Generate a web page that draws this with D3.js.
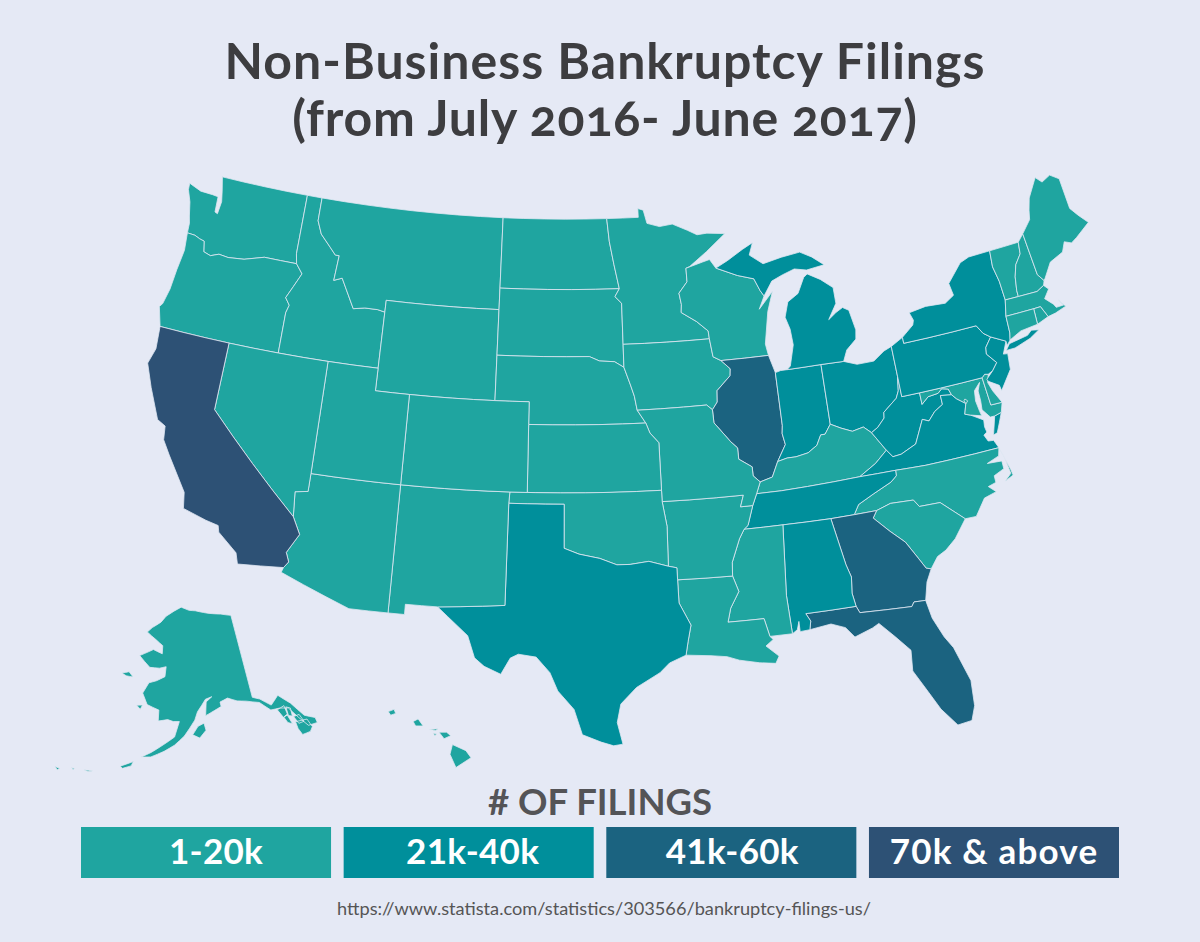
<!DOCTYPE html>
<html><head><meta charset="utf-8"><script src="https://cdn.jsdelivr.net/npm/d3@7"></script>
<style>html,body{margin:0;background:#e5e9f5}svg{display:block}text{font-family:Lato,"Open Sans",sans-serif}</style></head>
<body><svg id="c" width="1200" height="942"></svg>
<script>
const titleLines=["Non-Business Bankruptcy Filings","(from July 2016- June 2017)"];
const legendTitle="# OF FILINGS";
const sourceText="https://www.statista.com/statistics/303566/bankruptcy-filings-us/";
const categories=["1-20k","21k-40k","41k-60k","70k & above"];
const categoryColors=["#1fa5a0","#008f9b","#1b6380","#2d5175"];
const tier1=["WA","OR","ID","MT","WY","ND","SD","NE","MN","IA","WI","NV","UT","CO","AZ","NM","KS","OK","MO","AR","LA","MS","KY","NC","SC","AK","HI","ME","NH","VT","MA","CT","RI","DE","MD","DC"];
const tier2=["TX","TN","AL","VA","WV","OH","IN","MI","NY","PA","NJ"];
const tier3=["IL","GA","FL"];
const tier4=["CA"];
const WA=[[[-122.76,49],[-117.03,49],[-117.04,46.42],[-116.92,45.995],[-118.98,46],[-119.3,45.93],[-120.2,45.73],[-121.2,45.65],[-121.8,45.7],[-122.3,45.55],[-122.76,45.65],[-122.9,46.1],[-123.2,46.15],[-123.55,46.25],[-124.05,46.27],[-124.08,46.7],[-124.2,47],[-124.4,47.6],[-124.7,48.1],[-124.73,48.38],[-123.9,48.17],[-123.1,48.15],[-122.72,48.12],[-122.68,47.45],[-122.5,47.4],[-122.42,47.95],[-122.55,48.4]]];
const OR=[[[-124.05,46.27],[-123.55,46.25],[-123.2,46.15],[-122.9,46.1],[-122.76,45.65],[-122.3,45.55],[-121.8,45.7],[-121.2,45.65],[-120.2,45.73],[-119.3,45.93],[-118.98,46],[-116.92,45.995],[-116.47,45.6],[-116.85,45],[-117.2,44.45],[-116.9,44.15],[-117.03,43.8],[-117.03,42],[-120,42],[-124.2,42],[-124.55,42.84],[-124.4,43],[-124.2,43.7],[-124.1,44.6],[-123.95,45.5]]];
const ID=[[[-117.03,49],[-116.05,49],[-116.05,48],[-115.7,47.45],[-115,46.95],[-114.6,46.65],[-114.35,46.65],[-114.45,45.55],[-113.95,45.7],[-113.45,45.05],[-113,44.45],[-112.3,44.55],[-111.5,44.55],[-111.05,44.48],[-111.05,42],[-114.04,42],[-117.03,42],[-117.03,43.8],[-116.9,44.15],[-117.2,44.45],[-116.85,45],[-116.47,45.6],[-116.92,45.995],[-117.04,46.42]]];
const MT=[[[-116.05,49],[-104.05,49],[-104.05,45.94],[-104.05,45],[-111.05,45],[-111.05,44.48],[-111.5,44.55],[-112.3,44.55],[-113,44.45],[-113.45,45.05],[-113.95,45.7],[-114.45,45.55],[-114.35,46.65],[-114.6,46.65],[-115,46.95],[-115.7,47.45],[-116.05,48]]];
const WY=[[[-111.05,45],[-104.05,45],[-104.05,43],[-104.05,41],[-109.05,41],[-111.05,41],[-111.05,42],[-111.05,44.48]]];
const ND=[[[-104.05,49],[-97.23,49],[-97.1,48],[-96.85,47],[-96.56,45.94],[-104.05,45.94]]];
const SD=[[[-104.05,45.94],[-96.56,45.94],[-96.85,45.6],[-96.45,45.3],[-96.45,43.5],[-96.45,42.49],[-97,42.75],[-97.9,42.8],[-98.5,43],[-104.05,43],[-104.05,45]]];
const NE=[[[-104.05,43],[-98.5,43],[-97.9,42.8],[-97,42.75],[-96.45,42.49],[-96.1,41.7],[-95.9,41.2],[-95.77,40.58],[-95.31,40],[-102.05,40],[-102.05,41],[-104.05,41]]];
const MN=[[[-97.23,49],[-95.15,49],[-95.15,49.38],[-94.8,49.3],[-94.6,48.72],[-93.8,48.55],[-92.95,48.62],[-92,48.3],[-91.4,48.07],[-90.75,48.1],[-89.6,48],[-90.9,47.3],[-92.05,46.72],[-92.29,46.66],[-92.29,46.07],[-92.85,45.6],[-92.75,45.1],[-92.8,44.75],[-91.9,44.3],[-91.25,43.85],[-91.22,43.5],[-96.45,43.5],[-96.45,45.3],[-96.85,45.6],[-96.56,45.94],[-96.85,47],[-97.1,48]]];
const IA=[[[-96.45,43.5],[-91.22,43.5],[-91.1,42.7],[-90.65,42.5],[-90.15,42.1],[-90.2,41.8],[-91.05,41.2],[-91.1,40.7],[-91.42,40.38],[-91.73,40.61],[-95.77,40.58],[-95.9,41.2],[-96.1,41.7],[-96.45,42.49]]];
const WI=[[[-92.29,46.66],[-91.2,46.87],[-90.75,46.95],[-90.4,46.55],[-89.1,46.13],[-88.1,45.9],[-87.8,45.35],[-87.6,45.1],[-88,44.55],[-87.05,45.25],[-87.5,44.4],[-87.9,43],[-87.8,42.49],[-90.65,42.5],[-91.1,42.7],[-91.22,43.5],[-91.25,43.85],[-91.9,44.3],[-92.8,44.75],[-92.75,45.1],[-92.85,45.6],[-92.29,46.07]]];
const IL=[[[-90.65,42.5],[-87.8,42.49],[-87.53,41.7],[-87.53,39.35],[-87.6,39],[-87.5,38.5],[-88.05,37.8],[-88.45,37.15],[-89.15,37],[-89.5,37.3],[-89.5,37.7],[-90.2,38.1],[-90.2,38.6],[-90.55,38.9],[-91.4,39.8],[-91.42,40.38],[-91.1,40.7],[-91.05,41.2],[-90.2,41.8],[-90.15,42.1]]];
const IN=[[[-87.53,41.7],[-87.2,41.76],[-86.82,41.76],[-84.8,41.76],[-84.82,39.1],[-85.2,38.7],[-85.45,38.7],[-85.75,38.27],[-86.3,38],[-87,37.9],[-87.5,37.9],[-88.05,37.8],[-87.5,38.5],[-87.6,39],[-87.53,39.35]]];
const OH=[[[-84.8,41.76],[-83.45,41.73],[-82.7,41.5],[-81.7,41.5],[-81,41.85],[-80.52,41.98],[-80.52,40.64],[-80.65,40],[-80.85,39.7],[-81.7,39.2],[-81.75,38.95],[-82.2,38.6],[-82.6,38.42],[-83,38.73],[-83.65,38.63],[-84.25,38.85],[-84.82,39.1]]];
const MI=[[[-90.4,46.55],[-89.1,46.13],[-88.1,45.9],[-87.8,45.35],[-87.6,45.1],[-87,45.7],[-86.3,45.9],[-85.5,46.08],[-84.75,45.95],[-84.2,46],[-83.6,46.05],[-84.3,46.48],[-85,46.77],[-86.2,46.67],[-87.4,46.5],[-88.2,46.95],[-87.9,47.47],[-88.6,47.23],[-89.6,46.83]],[[-86.82,41.76],[-84.8,41.76],[-83.45,41.73],[-83.15,42.2],[-82.5,42.6],[-82.4,43],[-82.6,43.9],[-82.95,44.07],[-83.4,43.9],[-83.9,43.65],[-83.3,44.3],[-83.3,45],[-84,45.45],[-84.75,45.78],[-85,45.65],[-85.5,45],[-86.2,44.7],[-86.5,44.05],[-86.3,43.5],[-86.25,42.8],[-86.6,41.9]]];
const KY=[[[-89.15,37],[-88.45,37.15],[-88.05,37.8],[-87.5,37.9],[-87,37.9],[-86.3,38],[-85.75,38.27],[-85.45,38.7],[-85.2,38.7],[-84.82,39.1],[-84.25,38.85],[-83.65,38.63],[-83,38.73],[-82.6,38.42],[-81.97,37.54],[-82.7,37.05],[-83.68,36.6],[-88.05,36.5],[-89.42,36.5]]];
const WV=[[[-80.52,40.64],[-80.52,39.72],[-79.48,39.72],[-79.48,39.2],[-79.05,39.47],[-78.45,39.52],[-78.2,39.68],[-77.83,39.6],[-77.72,39.32],[-78.35,39.4],[-78.35,39],[-78.87,38.77],[-79.3,38.42],[-79.65,38.55],[-80.3,37.55],[-81.2,37.24],[-81.68,37.2],[-81.97,37.54],[-82.6,38.42],[-82.2,38.6],[-81.75,38.95],[-81.7,39.2],[-80.85,39.7],[-80.65,40]]];
const VA=[[[-83.68,36.6],[-81.68,36.59],[-80,36.54],[-75.87,36.55],[-76.05,36.92],[-76.35,36.95],[-76.5,37.25],[-76.3,37.35],[-76.35,37.6],[-76.3,37.9],[-76.95,38.25],[-77.25,38.35],[-77.05,38.8],[-77.5,39.1],[-77.72,39.32],[-78.35,39.4],[-78.35,39],[-78.87,38.77],[-79.3,38.42],[-79.65,38.55],[-80.3,37.55],[-81.2,37.24],[-81.68,37.2],[-81.97,37.54],[-82.7,37.05]],[[-75.24,38.03],[-75.65,37.95],[-75.98,37.15],[-75.75,37.2],[-75.5,37.6]]];
const MD=[[[-79.48,39.72],[-75.79,39.72],[-75.7,38.46],[-75.05,38.45],[-75.24,38.03],[-75.65,37.95],[-75.9,37.95],[-76.25,38.35],[-76.2,38.75],[-76.2,39.2],[-76,39.55],[-76.4,39.25],[-76.48,38.8],[-76.4,38.3],[-76.35,38.1],[-76.95,38.25],[-77.25,38.35],[-77.05,38.8],[-77.5,39.1],[-77.72,39.32],[-77.83,39.6],[-78.2,39.68],[-78.45,39.52],[-79.05,39.47],[-79.48,39.2]]];
const DE=[[[-75.79,39.72],[-75.6,39.84],[-75.4,39.8],[-75.55,39.45],[-75.4,39.05],[-75.05,38.45],[-75.7,38.46]]];
const DC=[[[-77.12,38.93],[-77.04,39],[-76.91,38.89],[-77.04,38.79]]];
const PA=[[[-80.52,41.98],[-79.76,42.27],[-79.76,42],[-75.35,42],[-75.07,41.6],[-74.7,41.36],[-75.13,40.97],[-75.2,40.68],[-74.75,40.2],[-75.1,39.9],[-75.4,39.8],[-75.6,39.84],[-75.79,39.72],[-79.48,39.72],[-80.52,39.72],[-80.52,40.64]]];
const NJ=[[[-74.7,41.36],[-73.9,41],[-74.25,40.48],[-74,40.45],[-74.1,39.75],[-74.9,38.95],[-74.95,39.2],[-75.5,39.5],[-75.55,39.6],[-75.1,39.9],[-74.75,40.2],[-75.2,40.68],[-75.13,40.97]]];
const NY=[[[-79.76,42.27],[-79,42.7],[-78.9,42.9],[-79.05,43.26],[-78,43.37],[-76.8,43.3],[-76.2,43.55],[-76.3,44.1],[-75.3,44.85],[-74.7,45],[-73.35,45.01],[-73.45,44.3],[-73.3,43.6],[-73.27,42.75],[-73.5,42.05],[-73.55,41.3],[-73.65,41],[-73.9,40.8],[-73.9,41],[-74.7,41.36],[-75.07,41.6],[-75.35,42],[-79.76,42]],[[-74.03,40.6],[-73.75,40.85],[-72.6,40.98],[-72.3,41.15],[-71.87,41.07],[-72.5,40.82],[-73.5,40.6]]];
const VT=[[[-73.35,45.01],[-71.5,45.01],[-71.6,44.5],[-72.05,44.1],[-72.3,43.6],[-72.45,43],[-72.46,42.73],[-73.27,42.75],[-73.3,43.6],[-73.45,44.3]]];
const NH=[[[-71.5,45.01],[-71.08,45.3],[-70.98,43.4],[-70.7,43.07],[-70.82,42.87],[-71.3,42.7],[-72.46,42.73],[-72.45,43],[-72.3,43.6],[-72.05,44.1],[-71.6,44.5]]];
const ME=[[[-71.08,45.3],[-70.4,45.8],[-70.25,46.2],[-70,46.7],[-69.23,47.46],[-68.9,47.18],[-68.3,47.36],[-67.8,47.07],[-67.8,45.7],[-67.45,45.3],[-67,44.85],[-68,44.4],[-68.4,44.25],[-68.8,44.4],[-69.1,44],[-70,43.75],[-70.6,43.15],[-70.7,43.07],[-70.98,43.4]]];
const MA=[[[-73.5,42.05],[-73.27,42.75],[-72.46,42.73],[-71.3,42.7],[-70.82,42.87],[-70.6,42.65],[-71,42.3],[-70.6,41.95],[-70.5,41.78],[-70.05,41.78],[-70.25,42.07],[-69.95,41.7],[-70.65,41.55],[-71.12,41.5],[-71.38,42.02],[-71.8,42.02]]];
const RI=[[[-71.8,42.02],[-71.38,42.02],[-71.12,41.5],[-71.85,41.32]]];
const CT=[[[-73.5,42.05],[-71.8,42.02],[-71.85,41.32],[-72.9,41.25],[-73.65,41],[-73.55,41.3]]];
const NC=[[[-84.32,34.99],[-83.1,35],[-82.3,35.2],[-81.05,35.15],[-80.8,34.82],[-79.67,34.8],[-78.55,33.86],[-77.95,33.85],[-77.3,34.55],[-76.6,34.7],[-76.95,35],[-76.5,35.1],[-76.5,35.4],[-75.9,35.6],[-75.9,35.95],[-76.7,36],[-76,36.2],[-75.87,36.55],[-80,36.54],[-81.68,36.59],[-81.7,36.35],[-82.05,36.12],[-83.1,35.75],[-84,35.4]],[[-75.87,36.55],[-75.55,35.5],[-75.5,35.22],[-76,35.05],[-75.6,35.32],[-75.7,36]]];
const TN=[[[-89.42,36.5],[-89.7,36],[-90.07,35.15],[-90.3,35],[-88.2,35],[-85.6,34.98],[-84.32,34.99],[-84,35.4],[-83.1,35.75],[-82.05,36.12],[-81.7,36.35],[-81.68,36.59],[-83.68,36.6],[-88.05,36.5]]];
const SC=[[[-83.1,35],[-83.35,34.7],[-82.6,34],[-81.9,33.4],[-81.4,32.6],[-81.1,32.1],[-80.85,32.03],[-80.4,32.5],[-79.9,32.7],[-79.3,33.1],[-78.55,33.86],[-79.67,34.8],[-80.8,34.82],[-81.05,35.15],[-82.3,35.2]]];
const GA=[[[-85.6,34.98],[-84.32,34.99],[-83.1,35],[-83.35,34.7],[-82.6,34],[-81.9,33.4],[-81.4,32.6],[-81.1,32.1],[-80.85,32.03],[-81.2,31.5],[-81.45,30.72],[-82.05,30.75],[-82.2,30.57],[-84.86,30.7],[-85,31],[-85.1,31.6],[-85,32.3],[-85.18,32.87]]];
const FL=[[[-87.6,31],[-85,31],[-84.86,30.7],[-82.2,30.57],[-82.05,30.75],[-81.45,30.72],[-81.3,29.9],[-80.9,29],[-80.55,28.45],[-80.05,26.9],[-80.13,25.8],[-80.4,25.2],[-81.1,25.13],[-81.75,25.95],[-82.2,26.8],[-82.75,27.8],[-82.65,28.7],[-83.3,29.4],[-84,30.1],[-84.35,29.95],[-85.3,29.68],[-85.7,30.15],[-86.4,30.4],[-87.5,30.28],[-87.4,30.65]]];
const AL=[[[-88.2,35],[-85.6,34.98],[-85.18,32.87],[-85,32.3],[-85.1,31.6],[-85,31],[-87.6,31],[-87.4,30.65],[-87.5,30.28],[-88,30.25],[-88,30.7],[-88.13,30.35],[-88.4,30.2],[-88.47,31.9]]];
const MS=[[[-90.3,35],[-88.2,35],[-88.47,31.9],[-88.4,30.2],[-89.55,30.2],[-89.75,31],[-91.6,31],[-91.4,31.6],[-90.9,32.3],[-91.15,33],[-91.1,33.6],[-90.6,34.6]]];
const LA=[[[-94.04,33.02],[-91.15,33],[-90.9,32.3],[-91.4,31.6],[-91.6,31],[-89.75,31],[-89.55,30.2],[-89.4,30.05],[-89.8,29.8],[-89.2,29.3],[-89.4,29],[-90.2,29.1],[-91.2,29.3],[-91.8,29.5],[-92.6,29.6],[-93.85,29.7],[-93.7,30.3],[-93.5,31],[-94.04,32]]];
const AR=[[[-94.62,36.5],[-90.15,36.5],[-90.37,36],[-89.7,36],[-90.07,35.15],[-90.3,35],[-90.6,34.6],[-91.1,33.6],[-91.15,33],[-94.04,33.02],[-94.04,33.55],[-94.48,33.64],[-94.43,35.4]]];
const MO=[[[-95.77,40.58],[-91.73,40.61],[-91.42,40.38],[-91.4,39.8],[-90.55,38.9],[-90.2,38.6],[-90.2,38.1],[-89.5,37.7],[-89.5,37.3],[-89.15,37],[-89.42,36.5],[-89.7,36],[-90.37,36],[-90.15,36.5],[-94.62,36.5],[-94.62,37],[-94.62,39.1],[-95.1,39.55],[-95.31,40]]];
const KS=[[[-102.05,40],[-95.31,40],[-95.1,39.55],[-94.62,39.1],[-94.62,37],[-103,37],[-102.04,37]]];
const OK=[[[-103,37],[-94.62,37],[-94.62,36.5],[-94.43,35.4],[-94.48,33.64],[-95.5,33.9],[-96.5,33.8],[-97.2,33.8],[-98.1,34.1],[-99.2,34.3],[-100,34.56],[-100,36.5],[-103.04,36.5]]];
const TX=[[[-103.04,36.5],[-100,36.5],[-100,34.56],[-99.2,34.3],[-98.1,34.1],[-97.2,33.8],[-96.5,33.8],[-95.5,33.9],[-94.48,33.64],[-94.04,33.55],[-94.04,33.02],[-94.04,32],[-93.5,31],[-93.7,30.3],[-93.85,29.7],[-94.7,29.4],[-95.2,29],[-96.4,28.4],[-97.2,27.7],[-97.4,26.9],[-97.15,25.96],[-97.6,25.9],[-98.2,26.07],[-99.1,26.4],[-99.5,27.5],[-100.3,28.3],[-100.7,29.1],[-101.4,29.77],[-102.3,29.88],[-102.7,29.7],[-103.15,28.98],[-104,29.3],[-104.5,29.65],[-104.9,30.6],[-106,31.4],[-106.53,31.78],[-103.06,32]]];
const NM=[[[-109.05,37],[-103,37],[-103.04,36.5],[-103.06,32],[-106.53,31.78],[-108.2,31.78],[-108.2,31.33],[-109.05,31.33]]];
const AZ=[[[-114.04,37],[-109.05,37],[-109.05,31.33],[-111.07,31.33],[-114.8,32.5],[-114.72,32.72],[-114.5,33],[-114.7,33.4],[-114.15,34.27],[-114.63,35],[-114.75,36.1],[-114.05,36.2]]];
const CO=[[[-109.05,41],[-104.05,41],[-102.05,41],[-102.05,40],[-102.04,37],[-103,37],[-109.05,37]]];
const UT=[[[-114.04,42],[-111.05,42],[-111.05,41],[-109.05,41],[-109.05,37],[-114.04,37]]];
const NV=[[[-120,42],[-117.03,42],[-114.04,42],[-114.04,37],[-114.05,36.2],[-114.75,36.1],[-114.63,35],[-120,39]]];
const CA=[[[-124.2,42],[-120,42],[-120,39],[-114.63,35],[-114.15,34.27],[-114.7,33.4],[-114.5,33],[-114.72,32.72],[-117.12,32.53],[-117.3,33],[-118.4,33.75],[-118.5,34.03],[-119.2,34.15],[-120.5,34.45],[-120.65,35.15],[-121.9,36.6],[-122.4,37.2],[-122.5,37.8],[-123,38],[-123.8,39.3],[-124.35,40.3],[-124.1,41]]];
const AK=[[[-141,69.65],[-141,60.3],[-139.5,59.9],[-137.5,58.9],[-135.5,59.7],[-133.5,58.4],[-131.8,56.6],[-130,55.9],[-130,55.3],[-131.8,55.4],[-133,56.6],[-134.3,58],[-136,58.3],[-137.9,58.4],[-139.8,59.55],[-142.5,60.05],[-144.5,60.3],[-146.5,60.8],[-148.3,60.5],[-148.2,60],[-149.8,59.65],[-151.8,59.2],[-151.4,60.7],[-150,61.2],[-151.5,61],[-153.5,59.7],[-154.2,58.8],[-156.5,57.1],[-158.5,56.1],[-160.5,55.4],[-163,54.7],[-164.8,54.6],[-163,55.2],[-161,56],[-158.5,57],[-157.5,58.7],[-158.8,58.7],[-160,58.9],[-162,58.7],[-162,59.9],[-164.7,60.4],[-166,61.6],[-164.8,62.8],[-163,63.1],[-161,63.6],[-160.8,64.7],[-162.5,64.5],[-165,64.5],[-168,65.65],[-164.5,66.5],[-162,66.1],[-162,67],[-164,67.6],[-166.8,68.35],[-165.5,68.9],[-163,69.6],[-161.5,70.3],[-159,70.9],[-156.6,71.35],[-154,70.95],[-152,70.85],[-148,70.4],[-144,70.05]],
[[-152.3,58.4],[-152,57.6],[-153.4,56.8],[-154.8,57.2],[-153.6,58.1]],[[-171.7,63.4],[-170,63.7],[-168.8,63.2],[-170.5,63.2]],[[-167,60.2],[-165.7,60.3],[-166.1,59.8]],[[-168.5,53.3],[-166.2,54],[-166.5,53.5],[-168,53.1]],[[-174.8,52.1],[-173.2,52.2],[-174,52]],[[-177,51.95],[-176.5,51.95],[-176.6,51.75]],[[-179.9,51.5],[-179,51.5],[-179.3,51.25]],
[[-136.6,58.2],[-135,58.4],[-134.9,57.4],[-135.9,57.2]],[[-134.7,58.2],[-133.9,57.9],[-134.1,57],[-134.8,57.2]],[[-135.8,57.2],[-135,57.3],[-134.6,56.2],[-135.4,56.5]],[[-133.9,56.9],[-132.7,56.9],[-132.3,56],[-133.4,56]],[[-133.9,56.3],[-131.6,56.1],[-131.2,55.1],[-131.9,54.7],[-133.5,54.7],[-133.9,55.5]]];
const HI=[[[-155.9,20.25],[-155.1,19.9],[-154.8,19.5],[-155.7,18.95],[-156.05,19.7]],[[-156.7,20.95],[-156.25,20.95],[-156,20.75],[-156.4,20.58]],[[-158.25,21.55],[-157.95,21.7],[-157.65,21.3],[-158.1,21.3]],[[-159.75,22.1],[-159.4,22.23],[-159.3,22],[-159.6,21.9]],[[-157.3,21.1],[-156.75,21.15],[-156.9,21.05]],[[-157.05,20.9],[-156.85,20.85],[-156.95,20.75]]];
const outlines={WA,OR,ID,MT,WY,ND,SD,NE,MN,IA,WI,IL,IN,OH,MI,KY,WV,VA,MD,DE,DC,PA,NJ,NY,VT,NH,ME,MA,RI,CT,NC,TN,SC,GA,FL,AL,MS,LA,AR,MO,KS,OK,TX,NM,AZ,CO,UT,NV,CA,AK,HI};
const tiers=[tier1,tier2,tier3,tier4];

const svg=d3.select("#c");
svg.append("rect").attr("width",1200).attr("height",942).attr("fill","#e5e9f5");
const color=d3.scaleOrdinal().domain(categories).range(categoryColors);
const tierOf=s=>categories[tiers.findIndex(t=>t.includes(s))];

const lower=d3.geoConicConformal().rotate([96,0]).center([0,38.7]).parallels([30,45]).scale(1310).angle(2.35).translate([635,453]);
const alaska=d3.geoConicEqualArea().rotate([158,0]).center([0,60.3]).parallels([55,65]).scale(520).translate([177,707]);
const hawaii=d3.geoConicEqualArea().rotate([157,0]).center([0,20]).parallels([8,18]).scale(1020).translate([434,749]);
const projOf=s=>s==="AK"?alaska:s==="HI"?hawaii:lower;

// subdivide long edges so parallels follow the projection's curve
function dense(ring){
  const out=[];
  ring.forEach((p,i)=>{
    const q=ring[(i+1)%ring.length];
    const n=Math.max(1,Math.ceil(Math.abs(q[0]-p[0])/1.5));
    for(let k=0;k<n;k++) out.push([p[0]+(q[0]-p[0])*k/n,p[1]+(q[1]-p[1])*k/n]);
  });
  out.push(out[0]);
  return out;
}
function feature(rings){
  const polys=rings.map(r=>{
    let ring=dense(r);
    if(d3.geoArea({type:"Polygon",coordinates:[ring]})>2*Math.PI) ring=ring.slice().reverse();
    return [ring];
  });
  return {type:"MultiPolygon",coordinates:polys};
}
svg.append("g").selectAll("path").data(Object.keys(outlines)).join("path")
  .attr("d",s=>d3.geoPath(projOf(s))(feature(outlines[s])))
  .attr("fill",s=>color(tierOf(s)))
  .attr("stroke","#dfe7f2").attr("stroke-width",0.8).attr("stroke-linejoin","round");

const titleSpacing=[1,0.8];
svg.append("g").selectAll("text").data(titleLines).join("text")
  .attr("x",605).attr("y",(d,i)=>79+i*57).attr("text-anchor","middle")
  .attr("font-size",50).attr("font-weight",700).attr("fill","#3d3d40")
  .style("letter-spacing",(d,i)=>titleSpacing[i]+"px").style("font-feature-settings",'"onum"').text(d=>d);
svg.append("text").attr("x",600).attr("y",815).attr("text-anchor","middle")
  .attr("font-size",36.5).attr("font-weight",700).attr("fill","#545457").text(legendTitle);
const band=d3.scaleBand().domain(categories).range([81,1119]).paddingInner(0.048);
const labelNudge=[10,4,1,0];
const labelSpacing=[0.3,0.3,0.3,1.2];
const lg=svg.append("g").selectAll("g").data(categories).join("g").attr("transform",d=>`translate(${band(d)},827)`);
lg.append("rect").attr("width",band.bandwidth()).attr("height",51).attr("fill",d=>color(d));
lg.append("text").attr("x",(d,i)=>band.bandwidth()/2+labelNudge[i]).attr("y",37).attr("text-anchor","middle")
  .attr("font-size",35).attr("font-weight",700).attr("fill","#fff").style("letter-spacing",(d,i)=>labelSpacing[i]+"px").text(d=>d);
svg.append("text").attr("x",604).attr("y",915).attr("text-anchor","middle")
  .attr("font-size",18.2).attr("fill","#555").text(sourceText);
</script></body></html>
